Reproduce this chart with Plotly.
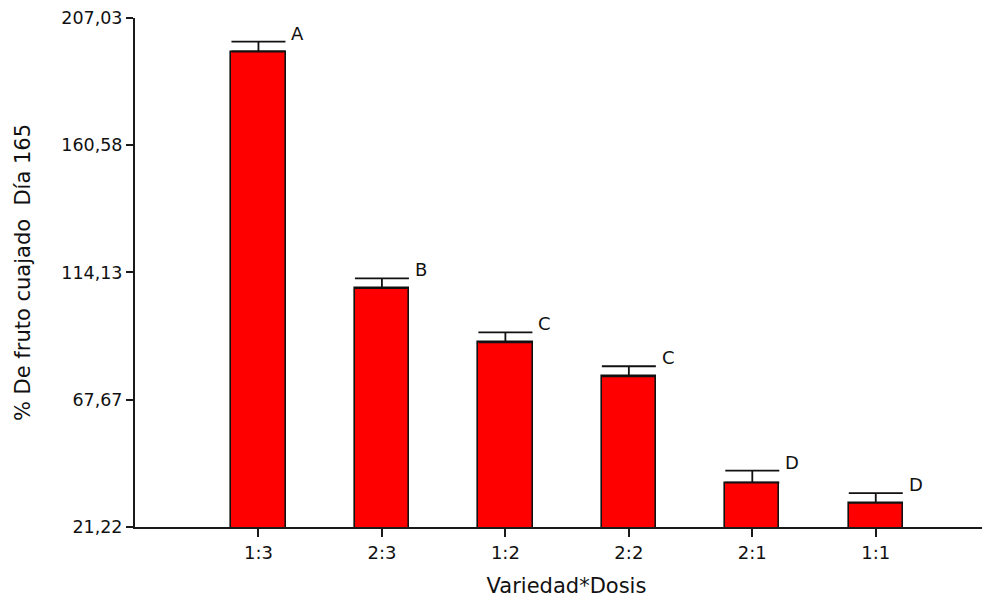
import plotly.graph_objects as go

categories = ["1:3", "2:3", "1:2", "2:2", "2:1", "1:1"]
means = [194.8, 108.4, 88.6, 76.2, 37.4, 30.0]
errors = [3.6, 3.6, 3.7, 3.7, 4.4, 3.6]
letters = ["A", "B", "C", "C", "D", "D"]
y_ticks = [21.22, 67.67, 114.13, 160.58, 207.03]
y_ticktext = ["21,22", "67,67", "114,13", "160,58", "207,03"]

FONT = "DejaVu Sans"

fig = go.Figure()
fig.add_trace(go.Bar(
    x=categories,
    y=means,
    width=0.44,
    marker=dict(color="#FF0000", line=dict(color="#111111", width=1.6)),
    error_y=dict(
        type="data", symmetric=False, array=errors,
        arrayminus=[0] * len(errors),
        color="#111111", thickness=1.8, width=27,
    ),
    showlegend=False,
))

for c, m, e, t in zip(categories, means, errors, letters):
    fig.add_annotation(
        x=c, y=m + e, text=t, showarrow=False,
        xanchor="left", yanchor="bottom", xshift=31, yshift=-4,
        font=dict(family=FONT, size=18, color="#111111"),
    )

fig.update_layout(
    width=990, height=601,
    margin=dict(l=127, r=0, t=10, b=82, autoexpand=False),
    paper_bgcolor="white", plot_bgcolor="white",
    font=dict(family=FONT, color="#111111"),
    bargap=0,
)
fig.update_xaxes(
    type="category", automargin=False,
    range=[-1.0, 5.99],
    showline=True, linecolor="#1a1a1a", linewidth=2,
    ticks="outside", ticklen=8, tickwidth=2, tickcolor="#1a1a1a",
    tickfont=dict(family=FONT, size=18),
    showgrid=False, zeroline=False,
    title=dict(text="Variedad*Dosis", font=dict(family=FONT, size=21), standoff=17),
)
fig.update_yaxes(
    automargin=False,
    range=[21.22, 207.03],
    tickmode="array", tickvals=y_ticks, ticktext=y_ticktext,
    showline=True, linecolor="#1a1a1a", linewidth=2,
    ticks="outside", ticklen=7, tickwidth=2, tickcolor="#1a1a1a",
    tickfont=dict(family=FONT, size=17.5),
    showgrid=False, zeroline=False,
    title=dict(text="% De fruto cuajado \u00a0Día 165", font=dict(family=FONT, size=21), standoff=25),
)

fig.write_html("out.html")
